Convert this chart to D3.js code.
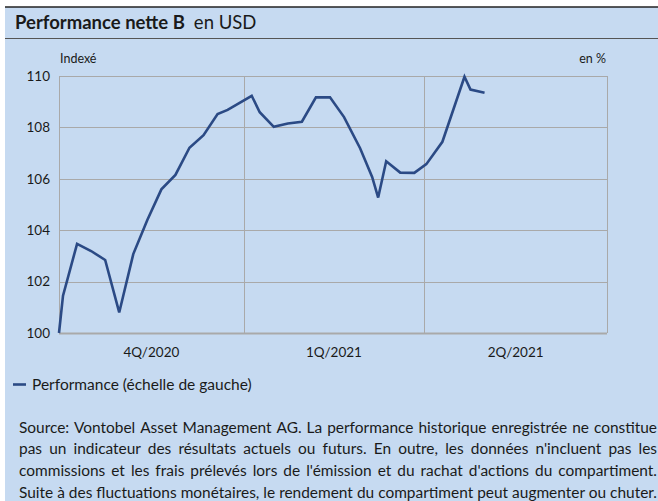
<!DOCTYPE html>
<html><head><meta charset="utf-8">
<script src="https://cdn.jsdelivr.net/npm/d3@7"></script>
<style>body{margin:0;background:#fff;overflow:hidden}svg{display:block}text{font-family:Lato,"Open Sans",sans-serif;fill:#1a1a1a}</style>
</head><body><svg id="c" width="658" height="501"></svg>
<script>
const dates = ["2020-10-01","2020-10-03","2020-10-10","2020-10-17","2020-10-24","2020-10-31","2020-11-07","2020-11-14","2020-11-21","2020-11-28","2020-12-05","2020-12-12","2020-12-19","2020-12-24","2021-01-05","2021-01-09","2021-01-16","2021-01-23","2021-01-30","2021-02-06","2021-02-13","2021-02-20","2021-02-28","2021-03-06","2021-03-09","2021-03-13","2021-03-20","2021-03-27","2021-04-02","2021-04-10","2021-04-21","2021-04-24","2021-05-01"];
const values = [100.0,101.45,103.47,103.19,102.84,100.80,103.07,104.40,105.59,106.15,107.21,107.70,108.52,108.68,109.23,108.59,108.02,108.15,108.22,109.17,109.17,108.40,107.19,106.07,105.27,106.68,106.24,106.23,106.57,107.44,109.97,109.47,109.35];
const yTicks = [100,102,104,106,108,110];
const quarterBounds = ["2020-10-01","2021-01-01","2021-04-01","2021-07-01"];
const quarterLabels = ["4Q/2020","1Q/2021","2Q/2021"];
const title = "Performance nette B";
const subtitle = "en USD";
const legendLabel = "Performance (échelle de gauche)";
const sourceLines = [
 "Source: Vontobel Asset Management AG. La performance historique enregistrée ne constitue",
 "pas un indicateur des résultats actuels ou futurs. En outre, les données n'incluent pas les",
 "commissions et les frais prélevés lors de l'émission et du rachat d'actions du compartiment.",
 "Suite à des fluctuations monétaires, le rendement du compartiment peut augmenter ou chuter."
];

const svg = d3.select("#c");
const bg = "#c6daf1", grid = "#a9a9a9", lineCol = "#2b4a85";
svg.append("rect").attr("x",5).attr("y",7).attr("width",653).attr("height",494).attr("fill",bg);
svg.append("line").attr("x1",5).attr("x2",658).attr("y1",7).attr("y2",7).attr("stroke","#222").attr("stroke-width",1.5);
svg.append("line").attr("x1",5).attr("x2",658).attr("y1",38.5).attr("y2",38.5).attr("stroke","#555").attr("stroke-width",1.2);

const t = svg.append("text").attr("x",15).attr("y",29).style("font-size","18.5px");
t.append("tspan").attr("font-weight","bold").text(title);
t.append("tspan").attr("dx",9).text(subtitle);

const parse = d3.timeParse("%Y-%m-%d");
const data = dates.map((d,i)=>({d:parse(d),v:values[i]}));
const qb = quarterBounds.map(parse);
const x = d3.scaleTime().domain([qb[0],qb[qb.length-1]]).range([59,607]);
const y = d3.scaleLinear().domain([100,110]).range([333,76]);

svg.append("text").attr("x",60).attr("y",63).style("font-size","12.5px").text("Indexé");
svg.append("text").attr("x",606).attr("y",63).attr("text-anchor","end").style("font-size","12.5px").text("en %");

const g = svg.append("g");
g.selectAll(".hg").data(yTicks).join("line").attr("x1",59).attr("x2",607)
 .attr("y1",d=>Math.round(y(d))+0.5).attr("y2",d=>Math.round(y(d))+0.5).attr("stroke",grid).attr("stroke-width",1);
g.selectAll(".vg").data(qb).join("line").attr("x1",d=>Math.round(x(d))+0.5).attr("x2",d=>Math.round(x(d))+0.5)
 .attr("y1",y(110)).attr("y2",y(100)).attr("stroke",grid).attr("stroke-width",1);
g.append("line").attr("x1",59).attr("x2",607).attr("y1",y(100)+0.5).attr("y2",y(100)+0.5).attr("stroke",grid).attr("stroke-width",2);

const yAxis = d3.axisLeft(y).tickValues(yTicks).tickSize(0).tickPadding(9).tickFormat(d3.format("d"));
const ya = svg.append("g").attr("transform","translate(59,0)").call(yAxis);
ya.select(".domain").remove();
ya.selectAll("text").style("font-size","13.5px").attr("fill","#1a1a1a").style("font-family",'Lato,"Open Sans",sans-serif');

const mids = quarterLabels.map((l,i)=>({l, d:new Date((qb[i].getTime()+qb[i+1].getTime())/2)}));
svg.selectAll(".xl").data(mids).join("text").attr("x",d=>x(d.d)).attr("y",357).attr("text-anchor","middle")
 .style("font-size","13.5px").text(d=>d.l);

svg.append("path").datum(data).attr("fill","none").attr("stroke",lineCol).attr("stroke-width",2.6)
 .attr("stroke-linejoin","miter").attr("d",d3.line().x(d=>x(d.d)).y(d=>y(d.v)));

svg.append("line").attr("x1",13).attr("x2",26).attr("y1",384.5).attr("y2",384.5).attr("stroke",lineCol).attr("stroke-width",2.6);
svg.append("text").attr("x",32).attr("y",389.5).style("font-size","15.5px").text(legendLabel);

// source, justified
const left = 19, right = 657;
let fs = 14;
const probe = svg.append("text").style("font-size",fs+"px");
const maxW = d3.max(sourceLines, l=>{probe.text(l); return probe.node().getComputedTextLength();});
probe.remove();
fs = fs*(right-left)/maxW;
sourceLines.forEach((line,i)=>{
  const words = line.split(" ");
  const tx = svg.append("text").attr("y",432.5+i*21.7).style("font-size",fs+"px");
  const spans = words.map(w=>tx.append("tspan").text(w));
  const widths = spans.map(s=>s.node().getComputedTextLength());
  const total = d3.sum(widths);
  const gap = (right-left-total)/(words.length-1);
  let cx = left;
  spans.forEach((s,j)=>{ s.attr("x",cx); cx += widths[j]+gap; });
});
</script></body></html>
